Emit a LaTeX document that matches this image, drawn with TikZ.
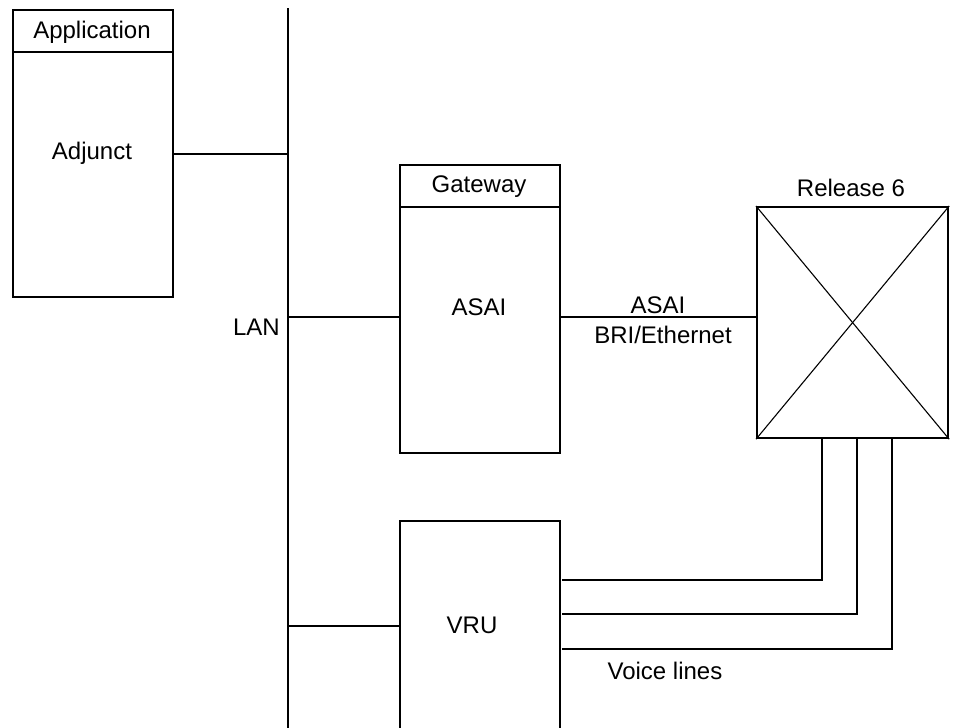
\documentclass[tikz,border=0pt]{standalone}
\usepackage{fontspec}
\setmainfont{Liberation Sans}
\begin{document}
\begin{tikzpicture}[x=1pt,y=-1pt,
  box/.style={draw,line width=2.2pt,inner sep=0pt,anchor=north west},
  thick line/.style={line width=2.2pt},
  thin line/.style={line width=1.1pt},
  lbl/.style={font=\fontsize{24}{26}\selectfont,inner sep=0pt}]
\useasboundingbox (0,0) rectangle (953,728);
\clip (0,0) rectangle (953,728);
% Adjunct box
\node[box,minimum width=160pt,minimum height=287pt] (app) at (12,9) {};
\draw[thick line] (12,52) -- (172,52);
\node[lbl] (apptxt) at (92,32) {Application};
\node[lbl] (adj) at (92,153) {Adjunct};
% LAN
\coordinate (lantop) at (288,8);
\coordinate (lanbot) at (288,728);
\draw[thick line] (lantop) -- (lanbot);
\node[lbl,anchor=east] (lan) at (280,327) {LAN};
% Gateway
\node[box,minimum width=160pt,minimum height=288pt] (gw) at (399,164) {};
\draw[thick line] (399,207) -- (559,207);
\node[lbl] (gwtxt) at (479,187) {Gateway};
\node[lbl] (asai) at (479,307) {ASAI};
% Release 6
\node[box,minimum width=191pt,minimum height=231pt] (rel) at (756,206) {};
\draw[thin line] (rel.north west) -- (rel.south east);
\draw[thin line] (rel.south west) -- (rel.north east);
\node[lbl] (reltxt) at (851,188) {Release 6};
% VRU
\node[box,minimum width=160pt,minimum height=240pt] (vru) at (399,520) {};
\node[lbl] (vrutxt) at (472,625) {VRU};
% connectors
\coordinate (j1) at (288,154);
\draw[thick line] (j1) -- (app.east |- j1);
\coordinate (j2) at (288,317);
\draw[thin line] (j2) -- (gw.west |- j2);
\coordinate (j3) at (288,626);
\draw[thick line] (j3) -- (vru.west |- j3);
\coordinate (k1) at (559,317);
\draw[thin line] (k1) -- (rel.west |- k1);
\node[lbl] (l1) at (658,305) {ASAI};
\node[lbl] (l2) at (663,335) {BRI/Ethernet};
% voice lines
\coordinate (v1s) at (562,580);
\coordinate (v2s) at (562,614);
\coordinate (v3s) at (562,649);
\coordinate (v1e) at (822,437);
\coordinate (v2e) at (857,437);
\coordinate (v3e) at (892,437);
\draw[thick line] (v1s) -| (v1e);
\draw[thick line] (v2s) -| (v2e);
\draw[thick line] (v3s) -| (v3e);
\node[lbl] (vl) at (665,671) {Voice lines};
\end{tikzpicture}
\end{document}
